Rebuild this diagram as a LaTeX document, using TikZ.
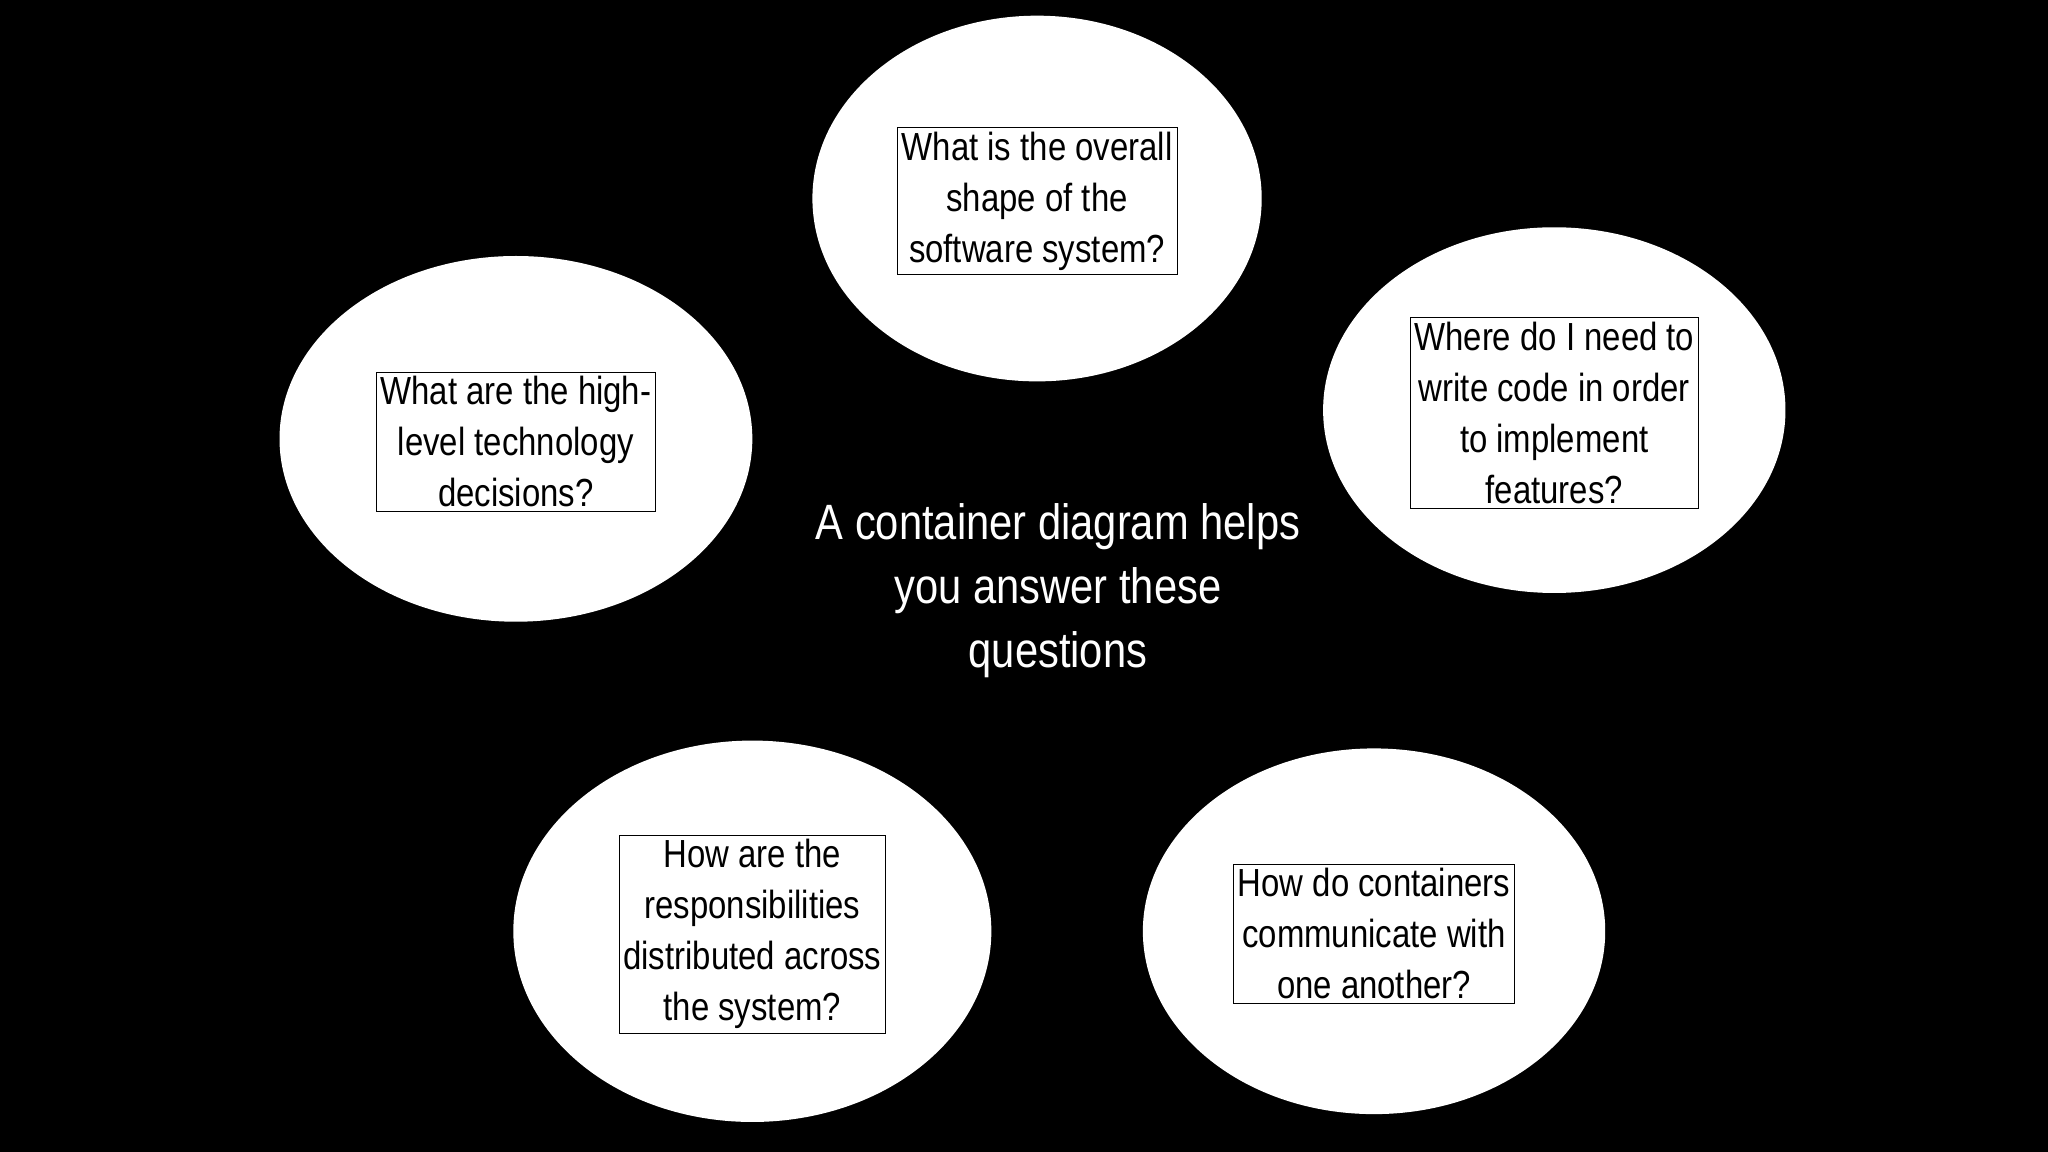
\documentclass[tikz,border=0pt]{standalone}
\usepackage{fontspec}
\setmainfont{Liberation Sans}[FakeStretch=0.84]
\begin{document}
\begin{tikzpicture}[x=1pt,y=-1pt,
  q/.style={fill=white,draw=black,align=center,text=black,font=\fontsize{30}{39}\selectfont}]
\fill[black] (0,0) rectangle (1568,882);
\useasboundingbox (0,0) rectangle (1568,882);
\fill[white] (794,152) ellipse [x radius=172, y radius=140];
\node[q] (top) at (794,154) {What is the overall\\shape of the\\software system?};
\fill[white] (395,336) ellipse [x radius=181, y radius=140];
\node[q] (left) at (395,338) {What are the high-\\level technology\\decisions?};
\fill[white] (1190,314) ellipse [x radius=177, y radius=140];
\node[q] (right) at (1190,316) {Where do I need to\\write code in order\\to implement\\features?};
\fill[white] (576,713) ellipse [x radius=183, y radius=146];
\node[q] (bl) at (576,715) {How are the\\responsibilities\\distributed across\\the system?};
\fill[white] (1052,713) ellipse [x radius=177, y radius=140];
\node[q] (br) at (1052,715) {How do containers\\communicate with\\one another?};
\node[text=white,align=center,font=\fontsize{38}{49}\selectfont] (c) at (810,452) {A container diagram helps\\you answer these\\questions};
\end{tikzpicture}
\end{document}
